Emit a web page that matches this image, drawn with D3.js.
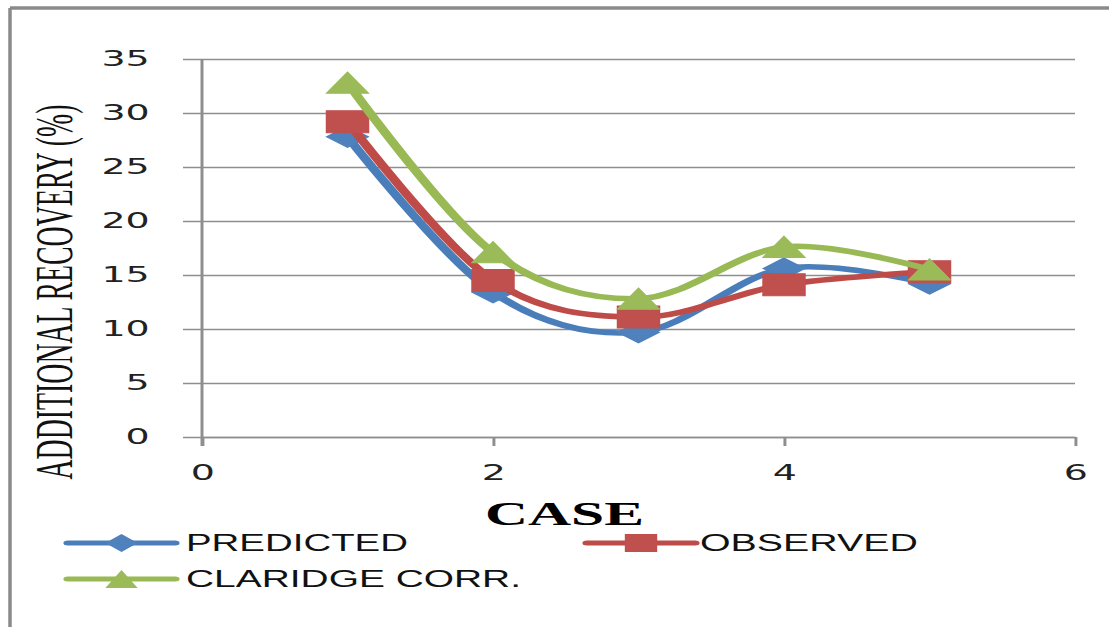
<!DOCTYPE html>
<html>
<head>
<meta charset="utf-8">
<script src="https://cdn.jsdelivr.net/npm/d3@7"></script>
<style>
  body { margin: 0; background: #fff; }
  svg { display: block; }
</style>
</head>
<body>
<svg id="chart" width="1109" height="627"></svg>
<script>
// Additional recovery per case
const cases = [1, 2, 3, 4, 5];
const predicted = [27.8, 13.4, 9.7, 15.6, 14.2];
const observed = [29.2, 14.5, 11.1, 14.1, 15.3];
const claridge = [32.8, 17.1, 12.8, 17.6, 15.5];
const seriesNames = ["PREDICTED", "OBSERVED", "CLARIDGE CORR."];
const xTickValues = [0, 2, 4, 6];
const yTickValues = [0, 5, 10, 15, 20, 25, 30, 35];

const W = 1109, H = 627;
const SX = 1.85; // the figure is drawn wide: everything is stretched horizontally

const svg = d3.select("#chart");

// outer frame (left and top edges)
svg.append("line").attr("x1", 10).attr("x2", 10).attr("y1", 8).attr("y2", H)
  .attr("stroke", "#8a8a8a").attr("stroke-width", 3.5);
svg.append("line").attr("x1", 10).attr("x2", W).attr("y1", 8).attr("y2", 8)
  .attr("stroke", "#8a8a8a").attr("stroke-width", 3.5);

const g = svg.append("g").attr("transform", `scale(${SX},1)`);

const x = d3.scaleLinear().domain([0, 6]).range([202 / SX, 1075 / SX]);
const y = d3.scaleLinear().domain([0, 35]).range([437, 59]);

const gridColor = "#8e8e8e";
const tickFont = "'DejaVu Sans', Verdana, sans-serif";

// y axis with gridlines
const yAxis = g.append("g").attr("transform", `translate(${x(0)},0)`)
  .call(d3.axisLeft(y).tickValues(yTickValues).tickFormat(d3.format("d"))
    .tickSize(x(0) - 183 / SX).tickPadding(18));
yAxis.select(".domain").remove();
yAxis.selectAll(".tick line").attr("stroke", gridColor).attr("stroke-width", 1.6)
  .attr("x1", -(x(0) - 183 / SX)).attr("x2", x(6) - x(0));
yAxis.selectAll(".tick text").attr("font-family", tickFont).attr("font-size", 20.5)
  .attr("fill", "#222");

// x axis
const xAxis = g.append("g").attr("transform", `translate(0,${y(0)})`)
  .call(d3.axisBottom(x).tickValues(xTickValues).tickFormat(d3.format("d"))
    .tickSize(9).tickPadding(19).tickSizeOuter(0));
xAxis.select(".domain").attr("stroke", gridColor).attr("stroke-width", 1.6);
xAxis.selectAll(".tick line").attr("stroke", gridColor).attr("stroke-width", 1.6);
xAxis.selectAll(".tick text").attr("font-family", tickFont).attr("font-size", 20.5)
  .attr("fill", "#222");

// vertical axis line
g.append("line").attr("x1", x(0)).attr("x2", x(0)).attr("y1", y(35)).attr("y2", y(0) + 9)
  .attr("stroke", gridColor).attr("stroke-width", 1.6);

// marker shapes, centred on the origin
function markerPath(shape, w, h) {
  const a = w / 2, b = h / 2;
  if (shape === "diamond") return `M0,${-b}L${a},0L0,${b}L${-a},0Z`;
  if (shape === "square") return `M${-a},${-b}H${a}V${b}H${-a}Z`;
  return `M0,${-b}L${a},${b}L${-a},${b}Z`;
}

const series = [
  { name: seriesNames[0], values: predicted, line: "#4a7ebb", fill: "#4f81bd", shape: "diamond", mw: 22.5, mh: 21 },
  { name: seriesNames[1], values: observed, line: "#be4b48", fill: "#c0504d", shape: "square", mw: 22.5, mh: 22 },
  { name: seriesNames[2], values: claridge, line: "#98b954", fill: "#9bbb59", shape: "triangle", mw: 22.5, mh: 21 }
];

const lineGen = d3.line()
  .x((d, i) => x(cases[i]))
  .y(d => y(d))
  .curve(d3.curveCardinal.tension(0));

series.forEach(s => {
  const sg = g.append("g");
  sg.append("path").datum(s.values).attr("d", lineGen)
    .attr("fill", "none").attr("stroke", s.line).attr("stroke-width", 5.5)
    .attr("stroke-linecap", "round").attr("stroke-linejoin", "round");
  sg.selectAll("path.m").data(s.values).join("path").attr("class", "m")
    .attr("transform", (d, i) => `translate(${x(cases[i])},${y(d)})`)
    .attr("d", markerPath(s.shape, s.mw, s.mh))
    .attr("fill", s.fill).attr("stroke", s.fill).attr("stroke-width", 1);
});

// axis titles
g.append("text")
  .attr("transform", `translate(39,292) rotate(-90)`)
  .attr("text-anchor", "middle")
  .attr("font-family", "'Liberation Serif', 'Times New Roman', serif")
  .attr("font-size", 28)
  .attr("textLength", 375).attr("lengthAdjust", "spacingAndGlyphs")
  .attr("fill", "#111")
  .text("ADDITIONAL RECOVERY (%)");

g.append("text")
  .attr("x", 564.5 / SX).attr("y", 525)
  .attr("text-anchor", "middle")
  .attr("font-family", "'Liberation Serif', 'Times New Roman', serif")
  .attr("font-weight", "bold")
  .attr("font-size", 33)
  .attr("textLength", 86).attr("lengthAdjust", "spacingAndGlyphs")
  .attr("fill", "#000")
  .text("CASE");

// legend
const legendItems = [
  { s: series[0], x0: 68, x1: 175, tx: 186, ty: 543, tw: 222 },
  { s: series[1], x0: 587, x1: 695, tx: 700, ty: 543, tw: 218 },
  { s: series[2], x0: 68, x1: 175, tx: 186, ty: 579, tw: 335 }
];
legendItems.forEach(it => {
  const lg = g.append("g");
  lg.append("line").attr("x1", it.x0 / SX).attr("x2", it.x1 / SX)
    .attr("y1", it.ty).attr("y2", it.ty)
    .attr("stroke", it.s.line).attr("stroke-width", 5).attr("stroke-linecap", "round");
  lg.append("path")
    .attr("transform", `translate(${(it.x0 + it.x1) / 2 / SX},${it.ty})`)
    .attr("d", markerPath(it.s.shape, 17.5, 18))
    .attr("fill", it.s.fill);
  lg.append("text")
    .attr("x", it.tx / SX).attr("y", it.ty + 8.5)
    .attr("font-family", "'Liberation Sans', Arial, sans-serif")
    .attr("font-size", 23.5)
    .attr("textLength", it.tw / SX).attr("lengthAdjust", "spacingAndGlyphs")
    .attr("fill", "#111")
    .text(it.s.name);
});
</script>
</body>
</html>
